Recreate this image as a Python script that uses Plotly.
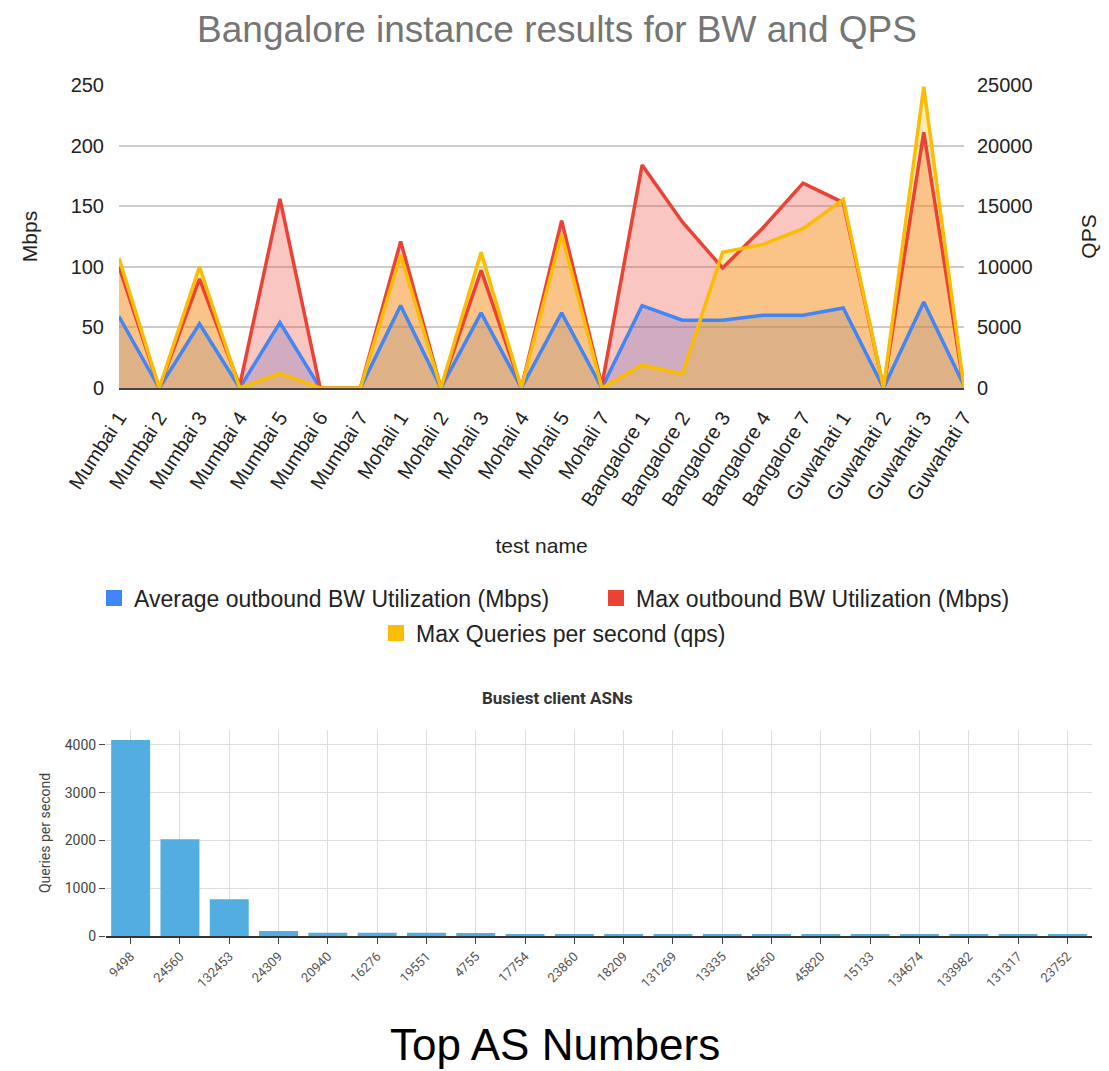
import plotly.graph_objects as go

# ---------------- data ----------------
tests = ["Mumbai 1", "Mumbai 2", "Mumbai 3", "Mumbai 4", "Mumbai 5", "Mumbai 6", "Mumbai 7",
         "Mohali 1", "Mohali 2", "Mohali 3", "Mohali 4", "Mohali 5", "Mohali 7",
         "Bangalore 1", "Bangalore 2", "Bangalore 3", "Bangalore 4", "Bangalore 7",
         "Guwahati 1", "Guwahati 2", "Guwahati 3", "Guwahati 7"]
avg_bw = [59, 0, 53, 0, 54, 0, 0, 68, 0, 62, 0, 62, 0, 68, 56, 56, 60, 60, 66, 0, 71, 2]
max_bw = [100, 0, 90, 2, 156, 0, 0, 121, 0, 97, 0, 138, 2, 184, 137, 99, 132, 169, 153, 0, 211, 0]
max_qps = [10700, 0, 10000, 0, 1200, 0, 0, 11000, 0, 11200, 0, 12700, 0, 1900, 1150, 11200,
           11850, 13150, 15550, 0, 24850, 0]

asn_labels = ["9498", "24560", "132453", "24309", "20940", "16276", "19551", "4755", "17754",
              "23860", "18209", "131269", "13335", "45650", "45820", "15133", "134674",
              "133982", "131317", "23752"]
asn_qps = [4105, 2028, 769, 105, 70, 70, 70, 65, 36, 34, 33, 32, 32, 31, 31, 30, 30, 29, 29, 28]

series_names = ["Average outbound BW Utilization (Mbps)",
                "Max outbound BW Utilization (Mbps)",
                "Max Queries per second (qps)"]

BLUE = "#4285F4"
RED = "#EA4335"
YELLOW = "#FBBC04"
BAR = "#52AEE0"
TOP_FONT = "Liberation Sans, Arial, sans-serif"
BOT_FONT = "Roboto, sans-serif"


def rgba(hex_color, a):
    h = hex_color.lstrip("#")
    return "rgba(%d,%d,%d,%.2f)" % (int(h[0:2], 16), int(h[2:4], 16), int(h[4:6], 16), a)


fig = go.Figure()

# top area chart: fills first (Mbps on y, QPS on y2)
for vals, col, ax in [(avg_bw, BLUE, "y"), (max_bw, RED, "y"), (max_qps, YELLOW, "y2")]:
    fig.add_trace(go.Scatter(
        x=tests, y=vals, xaxis="x", yaxis=ax, mode="none", fill="tozeroy",
        fillcolor=rgba(col, 0.3), showlegend=False, hoverinfo="skip"))

# lines above all fills (overlay axes with the same scales)
for vals, col, ax in [(avg_bw, BLUE, "y4"), (max_bw, RED, "y4"), (max_qps, YELLOW, "y5")]:
    fig.add_trace(go.Scatter(
        x=tests, y=vals, xaxis="x", yaxis=ax, mode="lines",
        line=dict(color=col, width=3.5), showlegend=False, hoverinfo="x+y"))

# legend entries (square swatches), one legend box each for exact placement
for name, col, lg in [(series_names[0], BLUE, "legend"), (series_names[1], RED, "legend3"),
                      (series_names[2], YELLOW, "legend2")]:
    fig.add_trace(go.Scatter(
        x=[None], y=[None], xaxis="x", yaxis="y", mode="markers", name=name,
        marker=dict(symbol="square", size=20, color=col), legend=lg, showlegend=True))

# bottom bar chart
fig.add_trace(go.Bar(
    x=asn_labels, y=asn_qps, xaxis="x2", yaxis="y3", marker=dict(color=BAR, line=dict(width=0)),
    showlegend=False))

# page body has an 8px margin: map screenshot pixels to figure fractions
OFF = 8
W = 1109 - OFF
H = 1071 - OFF


def py(p):
    return 1 - (p - OFF) / H


def px(p):
    return (p - OFF) / W


TOP_DOM = [py(388), py(85)]

legend_common = dict(orientation="h", yanchor="middle", xanchor="left", itemsizing="trace",
                     font=dict(size=23, color="#222", family=TOP_FONT), bgcolor="rgba(0,0,0,0)",
                     borderwidth=0)

fig.update_layout(
    width=W, height=H,
    margin=dict(l=0, r=0, t=0, b=0, autoexpand=False),
    paper_bgcolor="white", plot_bgcolor="white",
    font=dict(family=TOP_FONT, color="#222"),
    title=dict(text="Bangalore instance results for BW and QPS", x=px(557), xanchor="center",
               y=py(29), yanchor="middle", font=dict(size=37, color="#757575", family=TOP_FONT)),
    xaxis=dict(domain=[px(119), px(964)], anchor="y", type="category", range=[0, 21],
               automargin=False, ticklabelstandoff=8,
               tickangle=-57, tickfont=dict(size=20, color="#222"), showgrid=False,
               showline=True, linecolor="#444", linewidth=2, ticks="",
               title=dict(text="test name", font=dict(size=21, color="#222"), standoff=29)),
    yaxis=dict(domain=TOP_DOM, anchor="x", range=[0, 250], dtick=50, automargin=False,
               gridcolor="#cccccc", gridwidth=1.5, zeroline=False,
               tickfont=dict(size=20, color="#222"), ticklabelstandoff=14,
               title=dict(text="Mbps", font=dict(size=21, color="#222"), standoff=27)),
    yaxis2=dict(overlaying="y", anchor="x", side="right", range=[0, 25000], dtick=5000,
                tickformat="d", automargin=False,
                showgrid=False, zeroline=False, tickfont=dict(size=20, color="#222"),
                ticklabelstandoff=12,
                title=dict(text="QPS", font=dict(size=21, color="#222"), standoff=49)),
    yaxis4=dict(overlaying="y", anchor="x", range=[0, 250], visible=False, automargin=False),
    yaxis5=dict(overlaying="y", anchor="x", range=[0, 25000], visible=False, automargin=False),
    xaxis2=dict(domain=[px(106), px(1092)], anchor="y3", type="category", automargin=False,
                tickangle=-45, tickfont=dict(size=13, color="#555", family=BOT_FONT),
                showgrid=True, gridcolor="#dddddd", gridwidth=1, ticks="outside", ticklen=6,
                tickcolor="#444", showline=True, linecolor="#333", linewidth=1.5),
    yaxis3=dict(domain=[py(936), py(730)], anchor="x2", range=[0, 4314], dtick=1000,
                automargin=False,
                ticks="outside", ticklen=6, tickcolor="#444", gridcolor="#dddddd",
                zeroline=False, tickfont=dict(size=14, color="#444", family=BOT_FONT),
                title=dict(text="Queries per second", font=dict(size=14, color="#444", family=BOT_FONT),
                           standoff=10)),
    bargap=0.21,
    legend=dict(x=px(94), y=py(598), **legend_common),
    legend3=dict(x=px(596), y=py(598), **legend_common),
    legend2=dict(x=px(376), y=py(633), **legend_common),
    annotations=[
        dict(text="<b>Busiest client ASNs</b>", x=px(557), y=py(698), xref="paper", yref="paper",
             showarrow=False, font=dict(size=17, color="#333", family=BOT_FONT),
             xanchor="center", yanchor="middle"),
        dict(text="Top AS Numbers", x=px(555), y=py(1044), xref="paper", yref="paper",
             showarrow=False, font=dict(size=44, color="#000", family=TOP_FONT),
             xanchor="center", yanchor="middle"),
    ],
)

fig.write_html("out.html")
